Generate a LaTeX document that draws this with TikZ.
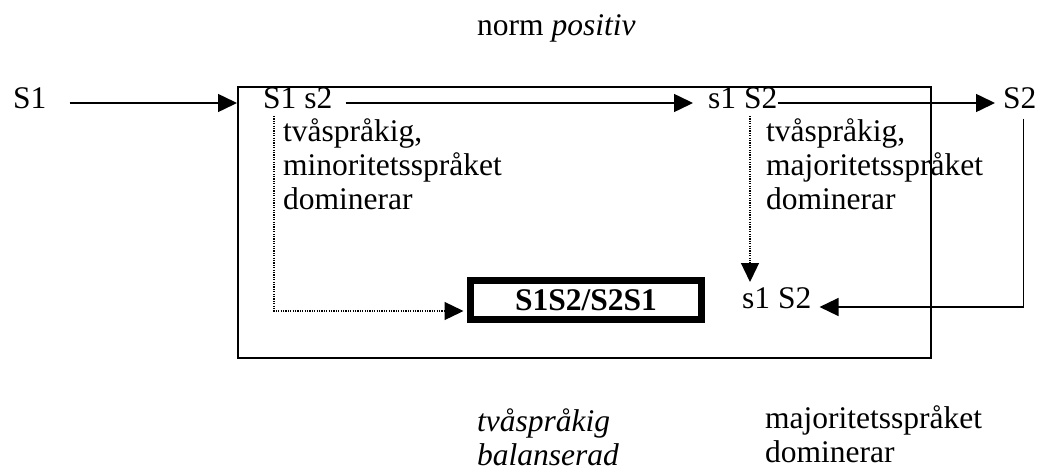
\documentclass[tikz,border=0pt]{standalone}
\usepackage{fontspec}
\setmainfont{Liberation Serif}
\usetikzlibrary{arrows.meta}
\begin{document}
\begin{tikzpicture}[x=1pt,y=-1pt,
  txt/.style={inner sep=0pt,anchor=base west,font=\fontsize{31.5}{34}\selectfont},
  arr/.style={line width=1.5pt,-{Triangle[length=19pt,width=18pt]}},
  dotarr/.style={line width=1.3pt,dash pattern=on 1.2pt off 1.2pt,-{Triangle[length=19pt,width=18pt]}},
  frame/.style={draw,line width=2pt,inner sep=0pt},
  balbox/.style={draw,line width=7pt,inner sep=0pt,font=\fontsize{31.5}{34}\selectfont\bfseries}]
\useasboundingbox (0,0) rectangle (1038,466);
% texts
\node[txt] (norm) at (477,35) {norm \textit{positiv}};
\node[txt] (S1) at (13,108) {S1};
\node[frame,minimum width=693pt,minimum height=271pt] (frame) at (584.5,222.5) {};
\node[txt] (S1s2) at (263,108) {S1 s2};
\node[txt] (s1S2) at (708,108) {s1 S2};
\node[txt] (S2) at (1003,108) {S2};
\node[txt] (l1) at (283,141) {tvåspråkig,};
\node[txt] (l2) at (283,175) {minoritetsspråket};
\node[txt] (l3) at (283,209) {dominerar};
\node[txt] (r1) at (766,141) {tvåspråkig,};
\node[txt] (r2) at (766,175) {majoritetsspråket};
\node[txt] (r3) at (766,209) {dominerar};
\node[balbox,minimum width=231pt,minimum height=39pt] (bal) at (586,300) {S1S2/S2S1};
\node[txt] (s1S2b) at (742,308) {s1 S2};
\node[txt] (b1) at (477,431) {\textit{tvåspråkig}};
\node[txt] (b2) at (477,465) {\textit{balanserad}};
\node[txt] (c1) at (765,428) {majoritetsspråket};
\node[txt] (c2) at (765,462) {dominerar};
% connectors
\draw[arr] ([xshift=23pt,yshift=5pt]S1.base east) -- ([yshift=5pt]frame.west |- S1.base);
\draw[arr] ([xshift=13pt,yshift=5pt]S1s2.base east) -- ([xshift=-15pt,yshift=5pt]s1S2.base west);
\draw[arr] ([yshift=5pt]s1S2.base east) -- ([xshift=-8pt,yshift=5pt]S2.base west);
\draw[arr] ([xshift=3.5pt,yshift=-10pt]S2.south) |- ([xshift=8pt,yshift=1pt]s1S2b.base east);
\draw[dotarr] ([xshift=11pt,yshift=-8pt]S1s2.base west) |- ([xshift=-3.5pt,yshift=-11pt]bal.west);
\draw[dotarr] ([xshift=42pt,yshift=-8pt]s1S2.base west) -- ([xshift=8pt,yshift=26pt]s1S2b.base west);
\end{tikzpicture}
\end{document}
